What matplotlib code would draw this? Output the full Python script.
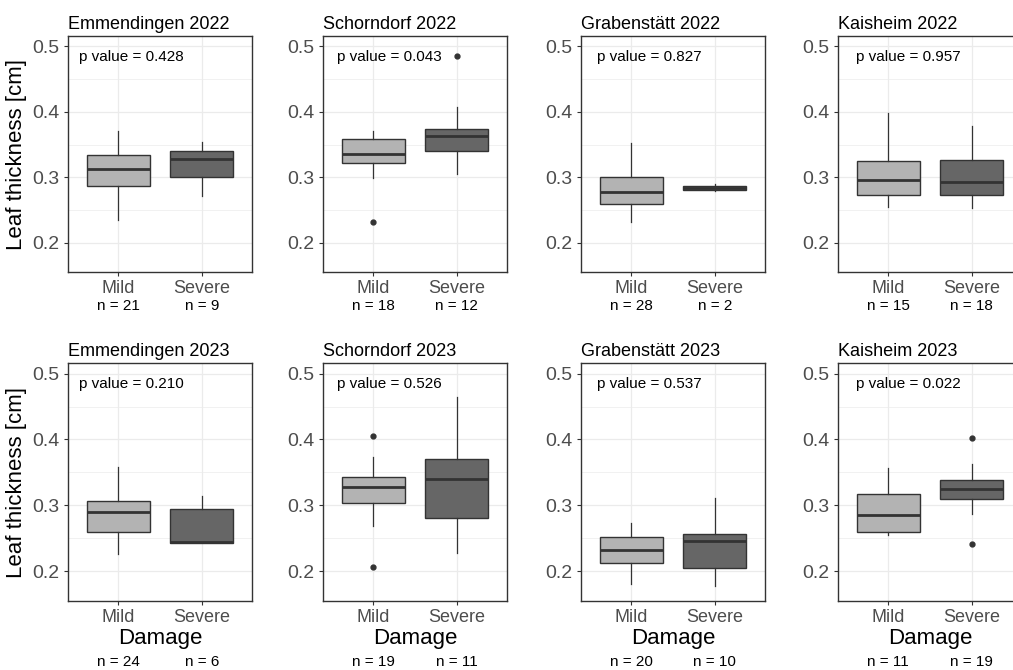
import matplotlib
matplotlib.use("Agg")
import matplotlib.pyplot as plt
import matplotlib.transforms as mtransforms
from matplotlib.ticker import MultipleLocator

plt.rcParams["font.family"] = ["Liberation Sans", "DejaVu Sans"]

# panel data (top row 2022, bottom row 2023)
titles = ["Emmendingen 2022", "Schorndorf 2022", "Grabenstätt 2022", "Kaisheim 2022",
          "Emmendingen 2023", "Schorndorf 2023", "Grabenstätt 2023", "Kaisheim 2023"]
p_values = ["0.428", "0.043", "0.827", "0.957", "0.210", "0.526", "0.537", "0.022"]
categories = ["Mild", "Severe"]
n_mild = [21, 18, 28, 15, 24, 19, 20, 11]
n_severe = [9, 12, 2, 18, 6, 11, 10, 19]

# (lower whisker, q1, median, q3, upper whisker)
mild_stats = [
    (0.235, 0.287, 0.313, 0.334, 0.370),
    (0.299, 0.321, 0.335, 0.359, 0.371),
    (0.231, 0.259, 0.277, 0.300, 0.353),
    (0.255, 0.273, 0.295, 0.325, 0.398),
    (0.227, 0.260, 0.290, 0.306, 0.359),
    (0.269, 0.304, 0.328, 0.343, 0.374),
    (0.181, 0.212, 0.233, 0.252, 0.273),
    (0.255, 0.260, 0.286, 0.318, 0.356),
]
severe_stats = [
    (0.271, 0.300, 0.328, 0.340, 0.354),
    (0.305, 0.340, 0.363, 0.374, 0.408),
    (0.279, 0.281, 0.284, 0.2865, 0.289),
    (0.253, 0.273, 0.293, 0.327, 0.379),
    (0.2425, 0.2425, 0.244, 0.295, 0.315),
    (0.228, 0.281, 0.340, 0.370, 0.465),
    (0.177, 0.205, 0.246, 0.256, 0.311),
    (0.287, 0.309, 0.325, 0.338, 0.363),
]
mild_outliers = [[], [0.232], [], [], [], [0.406, 0.207], [], []]
severe_outliers = [[], [0.486], [], [], [], [], [], [0.402, 0.242]]

fill_colors = ["#B3B3B3", "#666666"]
edge = "#333333"

fig = plt.figure(figsize=(10.13, 6.70), dpi=100)
W, H = 1013, 670

col_left = [68, 323, 581, 838]
panel_w = 184
row_top = [36, 363]
row_bot = [272, 601]
p_offset = [11, 14, 16, 18]

for i in range(8):
    r, c = divmod(i, 4)
    ax = fig.add_axes([col_left[c] / W, (H - row_bot[r]) / H,
                       panel_w / W, (row_bot[r] - row_top[r]) / H])

    stats = []
    for k, (s, outl) in enumerate([(mild_stats[i], mild_outliers[i]),
                                   (severe_stats[i], severe_outliers[i])]):
        lo, q1, med, q3, hi = s
        stats.append(dict(whislo=lo, q1=q1, med=med, q3=q3, whishi=hi,
                          fliers=outl, label=categories[k]))
    bp = ax.bxp(stats, positions=[1, 2], widths=0.75, patch_artist=True,
                showcaps=False,
                boxprops=dict(edgecolor=edge, linewidth=1.0),
                whiskerprops=dict(color=edge, linewidth=0.9),
                medianprops=dict(color=edge, linewidth=2.0),
                flierprops=dict(marker="o", markersize=3.5, markerfacecolor=edge,
                                markeredgecolor=edge, linestyle="none"))
    for patch, col in zip(bp["boxes"], fill_colors):
        patch.set_facecolor(col)
    for el in bp["boxes"] + bp["whiskers"] + bp["medians"] + bp["fliers"]:
        el.set_zorder(3)

    ax.set_xlim(0.4, 2.6)
    ax.set_ylim(0.155, 0.516)
    ax.yaxis.set_major_locator(MultipleLocator(0.1))
    ax.yaxis.set_minor_locator(MultipleLocator(0.05))
    ax.set_xticks([1, 2])
    ax.set_xticklabels(categories)
    ax.grid(True, which="major", color="#EBEBEB", linewidth=0.9, zorder=0)
    ax.grid(True, which="minor", axis="y", color="#EBEBEB", linewidth=0.5, zorder=0)
    ax.set_axisbelow(True)
    ax.tick_params(axis="both", which="major", length=3, width=0.8, color="#333333",
                   labelcolor="#4D4D4D", pad=3)
    ax.tick_params(axis="x", labelsize=13)
    ax.tick_params(axis="y", labelsize=14)
    ax.tick_params(which="minor", length=0)
    for sp in ax.spines.values():
        sp.set_color("#333333")
        sp.set_linewidth(1.0)

    ax.set_title(titles[i], loc="left", fontsize=13, pad=5, color="black")
    ax.text(p_offset[c] / panel_w, 0.91, f"p value = {p_values[i]}",
            transform=ax.transAxes, fontsize=11, ha="left", va="center")

    trans = mtransforms.blended_transform_factory(ax.transData, ax.transAxes)
    ph = row_bot[r] - row_top[r]
    n_y = (row_bot[r] - (306 if r == 0 else 662)) / ph
    ax.text(1, n_y, f"n = {n_mild[i]}", transform=trans, fontsize=11,
            ha="center", va="center")
    ax.text(2, n_y, f"n = {n_severe[i]}", transform=trans, fontsize=11,
            ha="center", va="center")

    if r == 1:
        ax.set_xlabel("Damage", fontsize=16, labelpad=1)
    if c == 0:
        ax.set_ylabel("Leaf thickness [cm]", fontsize=16, labelpad=4)

fig.savefig("out.png", dpi=100)
